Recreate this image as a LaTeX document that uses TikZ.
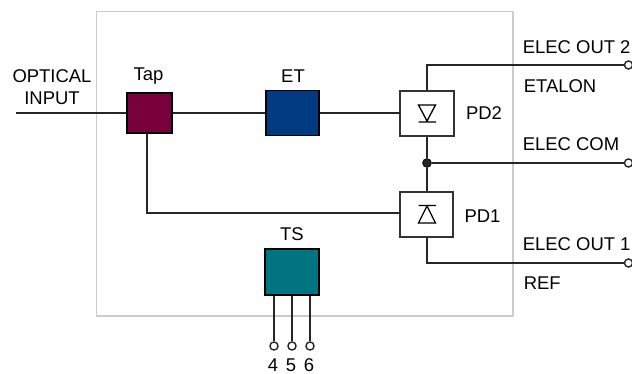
\documentclass[tikz,border=0pt]{standalone}
\usepackage{fontspec}
\setmainfont{Liberation Sans}
\usetikzlibrary{positioning,calc}
\definecolor{tapcol}{HTML}{7A003C}
\definecolor{etcol}{HTML}{003B82}
\definecolor{tscol}{HTML}{00757F}
\tikzset{lab/.style={inner sep=0pt,font=\fontsize{10.5}{12}\selectfont}  }
\tikzset{llab/.style={lab,anchor=west}  }
\tikzset{cbox/.style={draw=black,line width=0.95pt,inner sep=0pt,minimum width=1.07cm,minimum height=0.9cm}  }
\tikzset{pdbox/.style={draw=black!80,fill=white,line width=0.95pt,inner sep=0pt,minimum width=1.07cm,minimum height=0.9cm}  }
\tikzset{bvert/.style={draw,circle,fill=black!85,minimum size=5pt,inner sep=0pt}  }
\tikzset{wvert/.style={draw=black!85,circle,fill=white,line width=0.8pt,minimum size=4.6pt,inner sep=0pt}  }
\tikzset{wire/.style={draw=black!85,line width=1pt}  }
\begin{document}
\begin{tikzpicture}[x=0.02cm,y=-0.02cm]
	\useasboundingbox (0,0) rectangle (632,374);
	\draw[black!20,line width=0.9pt] (96.5,11.5) rectangle (513,316);

	\node[cbox,fill=tapcol,minimum width=0.91cm,minimum height=0.8cm] (tap) at (149.5,113) {};
	\node[cbox,fill=etcol] (et) at (292.5,113) {};
	\node[pdbox] (pd2) at (427,113.5) {};
	\node[pdbox] (pd1) at (426.5,214.5) {};
	\node[cbox,fill=tscol,minimum height=0.92cm] (ts) at (292,272) {};

	\coordinate (in) at (16,113);
	\coordinate (tapb) at (147,133);
	\coordinate (pd1in) at (399.5,213);
	\coordinate (pd2in) at (400,113);
	\coordinate[bvert] (jn) at (427,163);
	\coordinate[wvert] (e2) at (628.5,65);
	\coordinate[wvert] (ec) at (628.5,163);
	\coordinate[wvert] (e1) at (628.5,263);
	\coordinate[wvert] (p4) at (274,346);
	\coordinate[wvert] (p5) at (292,346);
	\coordinate[wvert] (p6) at (310,346);

	\draw[wire] (in) -- (tap);
	\draw[wire] (tap) -- (et);
	\draw[wire] (et) -- (pd2in);
	\draw[wire] (tapb) |- (pd1in);
	\draw[wire] (jn |- pd2.north) |- (e2);
	\draw[wire] (jn |- pd2.south) -- (jn) -- (jn |- pd1.north);
	\draw[wire] (jn) -- (ec);
	\draw[wire] (jn |- pd1.south) |- (e1);
	\draw[wire] (p4) -- (p4 |- ts.south);
	\draw[wire] (p5) -- (p5 |- ts.south);
	\draw[wire] (p6) -- (p6 |- ts.south);

	% diodes
	\draw[black,line width=0.75pt] (418.5,105) -- (435.5,105) -- (427,121) -- cycle (418.5,122) -- (436,122);
	\draw[black,line width=0.75pt] (418.5,223) -- (435.5,223) -- (427,206) -- cycle (418.5,205.5) -- (436,205.5);

	\node[lab] (optical) at (52,76) {OPTICAL};
	\node[lab] (input) at (52,98) {INPUT};
	\node[lab] (taplab) at (148.5,76) {Tap};
	\node[lab] (etlab) at (293,76) {ET};
	\node[lab] (pd2lab) at (484,113.5) {PD2};
	\node[lab] (pd1lab) at (482.5,216.5) {PD1};
	\node[lab] (tslab) at (292,234) {TS};
	\node[llab] (e2lab) at (522.5,47) {ELEC OUT 2};
	\node[llab] (etalon) at (523.5,86) {ETALON};
	\node[llab] (eclab) at (522.5,144.5) {ELEC COM};
	\node[llab] (e1lab) at (522.5,244) {ELEC OUT 1};
	\node[llab] (reflab) at (523.5,283.5) {REF};
	\node[lab] (l4) at (273,365) {4};
	\node[lab] (l5) at (291,365) {5};
	\node[lab] (l6) at (309,365) {6};
\end{tikzpicture}
\end{document}
